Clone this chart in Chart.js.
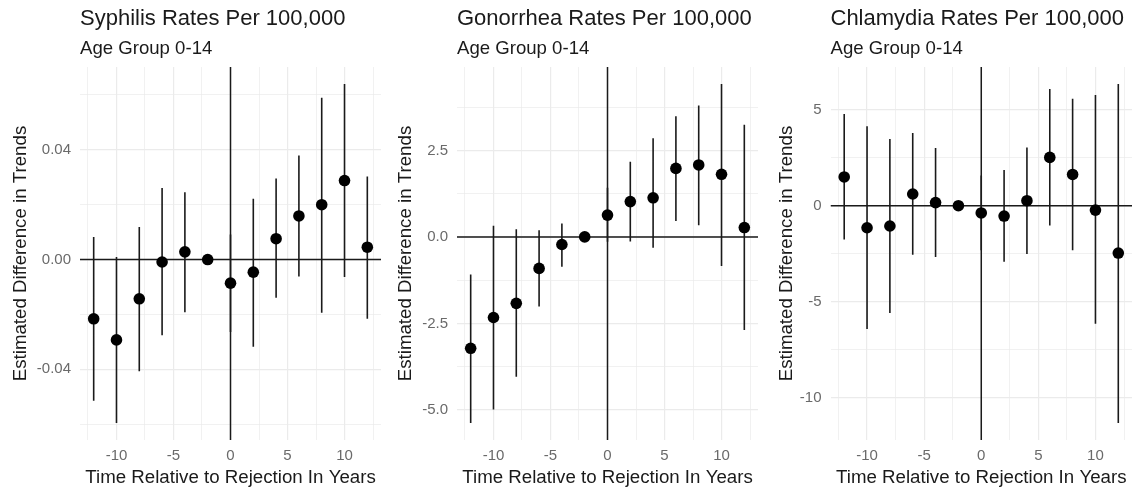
<!DOCTYPE html>
<html>
<head>
<meta charset="utf-8">
<title>Estimated Difference in Trends, Age Group 0-14</title>
<script src="https://cdn.jsdelivr.net/npm/chart.js@4.4.1/dist/chart.umd.min.js"></script>
<style>
  html, body { margin: 0; padding: 0; background: #fff; }
  #wrap { position: relative; width: 1142px; height: 489px; overflow: hidden; }
  #wrap canvas { position: absolute; top: 0; }
</style>
</head>
<body>
<div id="wrap">
  <canvas id="syphilisChart" width="390" height="489" style="left:0px"></canvas>
  <canvas id="gonorrheaChart" width="380" height="489" style="left:392px"></canvas>
  <canvas id="chlamydiaChart" width="370" height="489" style="left:772px"></canvas>
</div>
<script>
// event time (years relative to rejection)
const years = [-12, -10, -8, -6, -4, -2, 0, 2, 4, 6, 8, 10, 12];

// syphilis estimates and confidence limits
const syphilisEst  = [-0.0216, -0.0293, -0.0143, -0.0009, 0.0028, 0, -0.0086, -0.0046, 0.0076, 0.0159, 0.0200, 0.0288, 0.0045];
const syphilisLow  = [-0.0515, -0.0596, -0.0407, -0.0276, -0.0192, 0, -0.0264, -0.0318, -0.0139, -0.0062, -0.0194, -0.0064, -0.0216];
const syphilisHigh = [0.0082, 0.0009, 0.0119, 0.0261, 0.0245, 0, 0.0091, 0.0222, 0.0295, 0.0379, 0.0590, 0.0640, 0.0303];

// gonorrhea
const gonorrheaEst  = [-3.22, -2.33, -1.92, -0.91, -0.22, 0, 0.63, 1.02, 1.13, 1.98, 2.08, 1.81, 0.27];
const gonorrheaLow  = [-5.38, -4.99, -4.04, -2.01, -0.86, 0, -0.14, -0.13, -0.31, 0.46, 0.34, -0.84, -2.69];
const gonorrheaHigh = [-1.09, 0.32, 0.22, 0.19, 0.39, 0, 1.42, 2.17, 2.85, 3.49, 3.80, 4.42, 3.24];

// chlamydia
const chlamydiaEst  = [1.50, -1.15, -1.06, 0.61, 0.16, 0, -0.38, -0.54, 0.26, 2.52, 1.63, -0.23, -2.47];
const chlamydiaLow  = [-1.77, -6.43, -5.60, -2.56, -2.68, 0, -2.33, -2.92, -2.52, -1.04, -2.33, -6.16, -11.34];
const chlamydiaHigh = [4.78, 4.14, 3.48, 3.79, 3.01, 0, 1.58, 1.86, 3.04, 6.09, 5.58, 5.77, 6.35];

// tick labels
const xTicks = [-10, -5, 0, 5, 10];
const xTickLabels = ["-10", "-5", "0", "5", "10"];
const xMinor = [-12.5, -7.5, -2.5, 2.5, 7.5, 12.5];

const syphilisTicks = [-0.04, 0, 0.04];
const syphilisTickLabels = ["-0.04", "0.00", "0.04"];
const syphilisMinor = [-0.06, -0.02, 0.02, 0.06];

const gonorrheaTicks = [-5, -2.5, 0, 2.5];
const gonorrheaTickLabels = ["-5.0", "-2.5", "0.0", "2.5"];
const gonorrheaMinor = [-3.75, -1.25, 1.25, 3.75];

const chlamydiaTicks = [-10, -5, 0, 5];
const chlamydiaTickLabels = ["-10", "-5", "0", "5"];
const chlamydiaMinor = [-7.5, -2.5, 2.5];

const FONT = "'Liberation Sans', Arial, Helvetica, sans-serif";
const INK = "#1a1a1a";
const TICK_GREY = "#6a6a6a";
const GRID = "#ebebeb";

Chart.defaults.font.family = FONT;
Chart.defaults.color = INK;

// ggplot style 5% expansion of the data range
function expand(lo, hi) {
  const pad = (hi - lo) * 0.05;
  return [lo - pad, hi + pad];
}

function makePanel(canvasId, opts) {
  const [xMin, xMax] = expand(Math.min(...years), Math.max(...years));
  const [yMin, yMax] = expand(Math.min(...opts.low), Math.max(...opts.high));

  const points = years.map((x, i) => ({ x: x, y: opts.est[i] }));
  const bars = [];
  years.forEach((x, i) => {
    bars.push({ x: x, y: opts.low[i] }, { x: x, y: opts.high[i] }, { x: x, y: null });
  });

  const xMajorSet = new Set(xTicks);
  const yMajorSet = new Set(opts.yTicks);

  new Chart(document.getElementById(canvasId), {
    type: "scatter",
    data: {
      datasets: [
        {
          data: points,
          pointRadius: 5.8,
          pointBackgroundColor: "#000",
          pointBorderWidth: 0,
          showLine: false,
          order: 0,
        },
        {
          data: bars,
          showLine: true,
          spanGaps: false,
          borderColor: INK,
          borderWidth: 1.6,
          pointRadius: 0,
          order: 1,
        },
        {
          data: [{ x: xMin, y: 0 }, { x: xMax, y: 0 }],
          showLine: true,
          borderColor: INK,
          borderWidth: 1.5,
          pointRadius: 0,
          order: 2,
        },
        {
          data: [{ x: 0, y: yMin }, { x: 0, y: yMax }],
          showLine: true,
          borderColor: INK,
          borderWidth: 1.5,
          pointRadius: 0,
          order: 2,
        },
      ],
    },
    options: {
      responsive: false,
      animation: false,
      events: [],
      layout: { padding: { left: 0, right: opts.padRight, top: 0, bottom: 0 } },
      plugins: {
        legend: { display: false },
        tooltip: { enabled: false },
        title: {
          display: true,
          text: opts.title,
          align: "start",
          fullSize: false,
          color: INK,
          font: { size: 22, weight: "normal" },
          padding: { top: 6, bottom: 0 },
        },
        subtitle: {
          display: true,
          text: "Age Group 0-14",
          align: "start",
          fullSize: false,
          color: INK,
          font: { size: 18.6 },
          padding: { top: 5, bottom: 7.3 },
        },
      },
      scales: {
        x: {
          type: "linear",
          min: xMin,
          max: xMax,
          afterBuildTicks: (scale) => {
            scale.ticks = xMinor.concat(xTicks).sort((a, b) => a - b).map((v) => ({ value: v }));
          },
          afterFit: (scale) => { scale.height = 49; },
          border: { display: false },
          grid: {
            drawTicks: false,
            color: GRID,
            lineWidth: (ctx) => (ctx.tick && xMajorSet.has(ctx.tick.value) ? 1.2 : 0.7),
          },
          ticks: {
            autoSkip: false,
            maxRotation: 0,
            padding: 7,
            color: TICK_GREY,
            font: { size: 15 },
            callback: (v) => (xMajorSet.has(v) ? xTickLabels[xTicks.indexOf(v)] : ""),
          },
          title: {
            display: true,
            text: "Time Relative to Rejection In Years",
            color: INK,
            font: { size: 18.7, lineHeight: 1.15 },
            padding: { top: 0, bottom: 0 },
          },
        },
        y: {
          type: "linear",
          min: yMin,
          max: yMax,
          afterBuildTicks: (scale) => {
            scale.ticks = opts.yMinor.concat(opts.yTicks).sort((a, b) => a - b).map((v) => ({ value: v }));
          },
          afterFit: (scale) => { scale.width = opts.yWidth; },
          border: { display: false },
          grid: {
            drawTicks: false,
            color: GRID,
            lineWidth: (ctx) => (ctx.tick && yMajorSet.has(ctx.tick.value) ? 1.2 : 0.7),
          },
          ticks: {
            autoSkip: false,
            padding: 9,
            color: TICK_GREY,
            font: { size: 15 },
            callback: (v) => (yMajorSet.has(v) ? opts.yTickLabels[opts.yTicks.indexOf(v)] : ""),
          },
          title: {
            display: true,
            text: "Estimated Difference in Trends",
            color: INK,
            font: { size: 18.7, lineHeight: 1.15 },
            padding: { top: opts.yTitlePad, bottom: 0 },
          },
        },
      },
    },
  });
}

makePanel("syphilisChart", {
  title: "Syphilis Rates Per 100,000",
  est: syphilisEst, low: syphilisLow, high: syphilisHigh,
  yTicks: syphilisTicks, yTickLabels: syphilisTickLabels, yMinor: syphilisMinor,
  yWidth: 80, yTitlePad: 10, padRight: 9,
});

makePanel("gonorrheaChart", {
  title: "Gonorrhea Rates Per 100,000",
  est: gonorrheaEst, low: gonorrheaLow, high: gonorrheaHigh,
  yTicks: gonorrheaTicks, yTickLabels: gonorrheaTickLabels, yMinor: gonorrheaMinor,
  yWidth: 65, yTitlePad: 3.5, padRight: 14,
});

makePanel("chlamydiaChart", {
  title: "Chlamydia Rates Per 100,000",
  est: chlamydiaEst, low: chlamydiaLow, high: chlamydiaHigh,
  yTicks: chlamydiaTicks, yTickLabels: chlamydiaTickLabels, yMinor: chlamydiaMinor,
  yWidth: 58.5, yTitlePad: 4.5, padRight: 10,
});
</script>
</body>
</html>
